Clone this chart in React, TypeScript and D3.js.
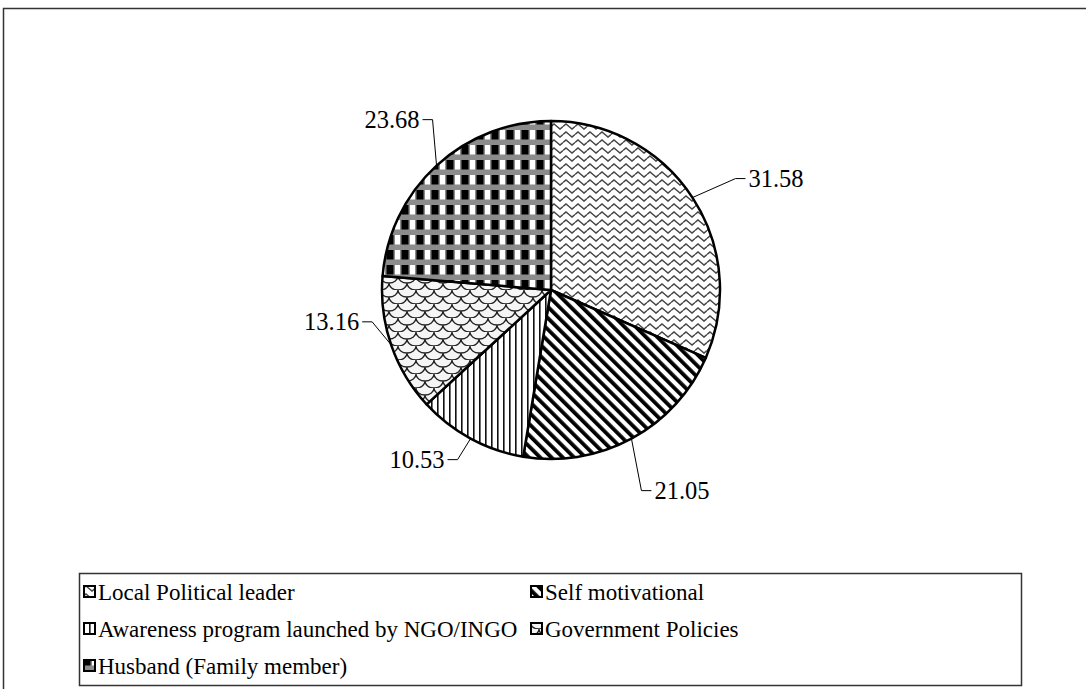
import { useEffect, useRef } from 'react';
import * as d3 from 'd3';

// chart values, in the order the workbook has them (legend order)
const categories = [
  'Local Political leader',
  'Self motivational',
  'Awareness program launched by NGO/INGO',
  'Government Policies',
  'Husband (Family member)',
];
const shares = [31.58, 21.05, 10.53, 13.16, 23.68];
const patternIds = ['pWave', 'pDiag', 'pVert', 'pScale', 'pCheck'];

// where each leader line bends, relative to the slice's outer mid point
const labelOffsets: [number, number][] = [
  [43, -19],
  [10, 52],
  [-13, 21],
  [-19, -23],
  [-4, -46],
];

const W = 1086;
const H = 689;
const FONT = 'Liberation Serif, DejaVu Serif, serif';

const App = () => {
  const svgRef = useRef<SVGSVGElement>(null);

  useEffect(() => {
    if (!svgRef.current) return;
    const svg = d3.select(svgRef.current);
    svg.selectAll('*').remove();

    const defs = svg.append('defs');

    // wavy lines
    const wave = defs.append('pattern').attr('id', 'pWave').attr('patternUnits', 'userSpaceOnUse')
      .attr('width', 12).attr('height', 8);
    wave.append('rect').attr('width', 12).attr('height', 8).attr('fill', '#fff');
    wave.append('path').attr('d', 'M0,4.5 L3,2 L6,4.5 L9,7 L12,4.5')
      .attr('fill', 'none').attr('stroke', '#444').attr('stroke-width', 1.5);

    // thick diagonal stripes
    const diag = defs.append('pattern').attr('id', 'pDiag').attr('patternUnits', 'userSpaceOnUse')
      .attr('width', 8).attr('height', 8).attr('patternTransform', 'rotate(-45)');
    diag.append('rect').attr('width', 8).attr('height', 8).attr('fill', '#fff');
    diag.append('rect').attr('x', 0).attr('width', 3.8).attr('height', 8).attr('fill', '#000');

    // thin vertical lines
    const vert = defs.append('pattern').attr('id', 'pVert').attr('patternUnits', 'userSpaceOnUse')
      .attr('width', 6).attr('height', 6);
    vert.append('rect').attr('width', 6).attr('height', 6).attr('fill', '#fff');
    vert.append('rect').attr('x', 0).attr('width', 1.6).attr('height', 6).attr('fill', '#111');

    // scales
    const scale = defs.append('pattern').attr('id', 'pScale').attr('patternUnits', 'userSpaceOnUse')
      .attr('width', 18).attr('height', 14);
    scale.append('rect').attr('width', 18).attr('height', 14).attr('fill', '#f5f5f5');
    scale.append('path')
      .attr('d', 'M0,7 A9,7 0 0 0 18,7 M-9,0 A9,7 0 0 0 9,0 M9,0 A9,7 0 0 0 27,0 M-9,14 A9,7 0 0 0 9,14 M9,14 A9,7 0 0 0 27,14')
      .attr('fill', 'none').attr('stroke', '#222').attr('stroke-width', 1.3);

    // black blocks with grey bands
    const check = defs.append('pattern').attr('id', 'pCheck').attr('patternUnits', 'userSpaceOnUse')
      .attr('width', 15).attr('height', 15);
    check.append('rect').attr('width', 15).attr('height', 15).attr('fill', '#8c8c8c');
    check.append('rect').attr('x', 0.5).attr('y', 5).attr('width', 7).attr('height', 9.5).attr('fill', '#000');
    check.append('rect').attr('x', 9).attr('y', 5).attr('width', 5).attr('height', 9.5).attr('fill', '#fff');

    // outer frame
    svg.append('rect')
      .attr('x', 3.5).attr('y', 8.5).attr('width', W + 20).attr('height', H + 20)
      .attr('fill', 'none').attr('stroke', '#333').attr('stroke-width', 1.5);

    const cx = 551;
    const cy = 290;
    const r = 169;

    const pie = d3.pie<number>().sort(null).value(d => d);
    const arcs = pie(shares);
    const arc = d3.arc<d3.PieArcDatum<number>>().innerRadius(0).outerRadius(r);

    const g = svg.append('g').attr('transform', `translate(${cx},${cy})`);
    g.selectAll('path.slice')
      .data(arcs)
      .enter()
      .append('path')
      .attr('class', 'slice')
      .attr('d', arc)
      .attr('fill', (d, i) => `url(#${patternIds[i]})`)
      .attr('stroke', '#000')
      .attr('stroke-width', 2.5)
      .attr('stroke-linejoin', 'round');

    // data labels with leader lines
    arcs.forEach((d, i) => {
      const mid = (d.startAngle + d.endAngle) / 2;
      const ex = Math.sin(mid) * r;
      const ey = -Math.cos(mid) * r;
      const bx = ex + labelOffsets[i][0];
      const by = ey + labelOffsets[i][1];
      const right = Math.sin(mid) > 0;
      const tx = bx + (right ? 10 : -10);
      g.append('path')
        .attr('d', `M${ex},${ey}L${bx},${by}L${tx},${by}`)
        .attr('fill', 'none').attr('stroke', '#000').attr('stroke-width', 1);
      g.append('text')
        .attr('x', tx + (right ? 3 : -3))
        .attr('y', by + 8)
        .attr('text-anchor', right ? 'start' : 'end')
        .attr('font-family', FONT)
        .attr('font-size', 24.5)
        .text(d3.format('.2f')(d.data));
    });

    // legend
    const legX = 79;
    const legY = 573;
    svg.append('rect')
      .attr('x', legX + 0.5).attr('y', legY + 0.5).attr('width', 942).attr('height', 112)
      .attr('fill', '#fff').attr('stroke', '#333').attr('stroke-width', 1.5);

    const colX = [83, 530];
    const rowY = [592, 629, 666];
    categories.forEach((name, i) => {
      const x = colX[i % 2];
      const y = rowY[Math.floor(i / 2)];
      const item = svg.append('g').attr('transform', `translate(${x},${y})`);
      item.append('rect')
        .attr('x', 1).attr('y', -6).attr('width', 11).attr('height', 11)
        .attr('fill', `url(#${patternIds[i]})`)
        .attr('stroke', '#000').attr('stroke-width', 2);
      item.append('text')
        .attr('x', 15).attr('y', 8)
        .attr('font-family', FONT)
        .attr('font-size', 23)
        .text(name);
    });
  }, []);

  return (
    <svg
      ref={svgRef}
      width={W}
      height={H}
      style={{ position: 'absolute', left: 0, top: 0, background: '#fff', display: 'block' }}
    />
  );
};

export default App;
